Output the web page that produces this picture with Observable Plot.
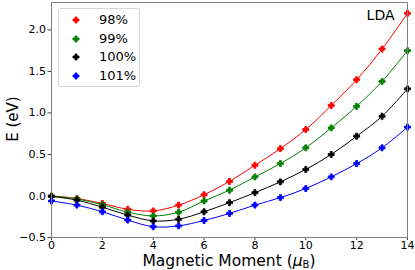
<!DOCTYPE html>
<html>
<head>
<meta charset="utf-8">
<script src="https://cdn.jsdelivr.net/npm/d3@7"></script>
<script src="https://cdn.jsdelivr.net/npm/@observablehq/plot@0.6"></script>
<style>
  html, body { margin: 0; padding: 0; background: #fff; }
  #wrap { position: relative; width: 415px; height: 270px; font-family: "DejaVu Sans", sans-serif; overflow: hidden; }
  #legend { position: absolute; left: 58px; top: 8px; width: 80px; height: 77px; border: 1px solid #d6d6d6; border-radius: 3px; background: rgba(255,255,255,0.85); }
  .row { position: absolute; left: 0; height: 18px; font-size: 13px; line-height: 18px; color: #000; }
  .row svg { position: absolute; left: 13px; top: 5px; }
  .row span { position: absolute; left: 40px; top: 0; white-space: nowrap; }
  #xlabel { position: absolute; top: 251.8px; left: 0; width: 415px; padding-left: 43px; box-sizing: border-box; text-align: center; font-size: 15.5px; line-height: normal; white-space: nowrap; }
  #xlabel sub { font-size: 10px; vertical-align: -1.5px; line-height: 0; }
  #ylabel { position: absolute; left: 13px; top: 119px; font-size: 15px; transform: translate(-50%, -50%) rotate(-90deg); white-space: nowrap; }
</style>
</head>
<body>
<div id="wrap"></div>
<script>
const moments = [0, 1, 2, 3, 4, 5, 6, 7, 8, 9, 10, 11, 12, 13, 14];
const seriesLabels = ["98%", "99%", "100%", "101%"];
const seriesColors = ["#ff0000", "#008000", "#000000", "#0000ff"];
const e98  = [0.0, -0.03, -0.09, -0.16, -0.18, -0.11, 0.015, 0.175, 0.37, 0.57, 0.80, 1.09, 1.40, 1.77, 2.20];
const e99  = [0.0, -0.035, -0.105, -0.195, -0.24, -0.195, -0.06, 0.07, 0.23, 0.39, 0.58, 0.82, 1.08, 1.38, 1.75];
const e100 = [-0.005, -0.05, -0.135, -0.23, -0.30, -0.28, -0.19, -0.08, 0.04, 0.17, 0.32, 0.50, 0.72, 0.96, 1.29];
const e101 = [-0.06, -0.11, -0.19, -0.29, -0.37, -0.36, -0.295, -0.21, -0.11, -0.02, 0.09, 0.23, 0.39, 0.58, 0.83];
const xTicks = [0, 2, 4, 6, 8, 10, 12, 14];
const yTicks = [-0.5, 0.0, 0.5, 1.0, 1.5, 2.0];
const title = "LDA";

const allSeries = [e98, e99, e100, e101];
const rows = [];
allSeries.forEach((vals, i) => {
  vals.forEach((v, j) => rows.push({x: moments[j], e: v, s: seriesLabels[i]}));
});

const fmt = d => (d < 0 ? "\u2212" : "") + Math.abs(d).toFixed(1);

const chart = Plot.plot({
  width: 415,
  height: 270,
  marginLeft: 51,
  marginRight: 8,
  marginTop: 2,
  marginBottom: 33,
  style: {fontFamily: "DejaVu Sans, sans-serif", fontSize: "11px", color: "#000", background: "#fff"},
  x: {domain: [0, 14]},
  y: {domain: [-0.5, 2.33]},
  color: {domain: seriesLabels, range: seriesColors},
  marks: [
    Plot.axisX({ticks: xTicks, tickSize: 3, tickPadding: 1, label: null, fontSize: 11, stroke: "#444"}),
    Plot.axisY({ticks: yTicks, tickSize: 3.5, tickPadding: 2, tickFormat: fmt, label: null, fontSize: 11, stroke: "#444"}),
    Plot.line(rows, {x: "x", y: "e", z: "s", stroke: "s", strokeWidth: 1, curve: "catmull-rom"}),
    Plot.dot(rows, {x: "x", y: "e", fill: "s", stroke: "s", strokeWidth: 0.9, symbol: "cross", r: 2.5}),
    Plot.frame({stroke: "#808080", strokeWidth: 1}),
    Plot.text([title], {text: d => d, frameAnchor: "top-right", dx: -13, dy: 8, fontSize: 14, textAnchor: "end", lineAnchor: "top"})
  ]
});

const wrap = document.getElementById("wrap");
wrap.appendChild(chart);

const legend = document.createElement("div");
legend.id = "legend";
const sym = d3.symbol(d3.symbolCross, 20)();
seriesLabels.forEach((lab, i) => {
  const r = document.createElement("div");
  r.className = "row";
  r.style.top = (2 + i * 18.7) + "px";
  r.innerHTML = `<svg width="8" height="8" viewBox="-4 -4 8 8"><path d="${sym}" fill="${seriesColors[i]}" stroke="${seriesColors[i]}" stroke-width="0.9"/></svg><span>${lab}</span>`;
  legend.appendChild(r);
});
wrap.appendChild(legend);

const xl = document.createElement("div");
xl.id = "xlabel";
xl.innerHTML = "Magnetic Moment (<i>\u03bc</i><sub>B</sub>)";
wrap.appendChild(xl);

const yl = document.createElement("div");
yl.id = "ylabel";
yl.textContent = "E (eV)";
wrap.appendChild(yl);
</script>
</body>
</html>
